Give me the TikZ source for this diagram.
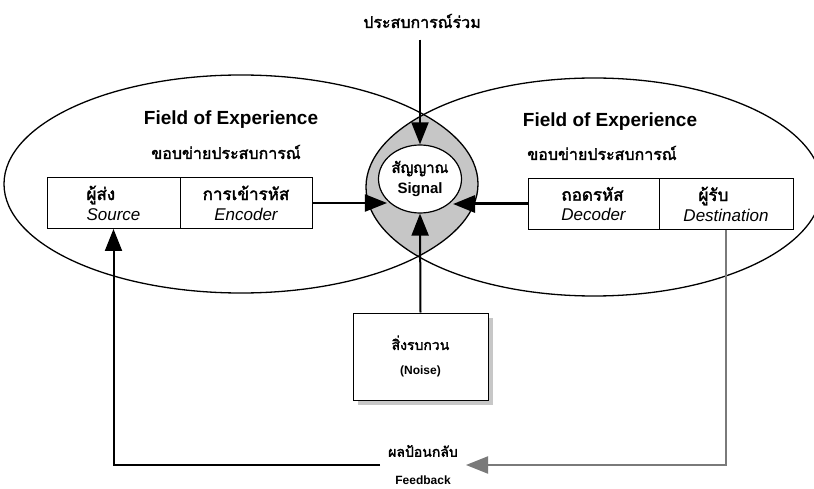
\documentclass[tikz,border=0pt]{standalone}
\usepackage{fontspec}
\setmainfont{Liberation Sans}
\setsansfont{Liberation Sans}
\newfontfamily\thai[Script=Thai, AutoFakeBold=2.2]{Loma}
\usetikzlibrary{arrows.meta,shapes.geometric,shadows}
\definecolor{lensgray}{HTML}{C6C6C6}
\definecolor{fbgray}{HTML}{7A7A7A}
\newcommand\thb[1]{{\thai\bfseries\upshape #1}}
\tikzset{
  field/.style={draw=black, line width=1.3pt},
  bigtip/.style={-{Triangle[length=22pt,width=17pt]}},
  conn/.style={draw=black, line width=2pt},
  cell/.style={draw=black, line width=1pt, fill=white, minimum height=51pt,
    inner sep=2pt, font=\fontsize{17}{20}\selectfont\itshape},
  title/.style={font=\bfseries\fontsize{19}{21}\selectfont, inner sep=1pt},
  thtitle/.style={font=\thai\bfseries\fontsize{16}{18}\selectfont, inner sep=1pt},
}
\begin{document}
\begin{tikzpicture}[x=1pt,y=-1pt]
\useasboundingbox (0,0) rectangle (814,489);
\fill[white] (0,0) rectangle (814,489);

% the overlap of the two fields of experience
\begin{scope}
  \clip (241,184) ellipse [x radius=237pt, y radius=109pt];
  \fill[lensgray] (594,187) ellipse [x radius=228pt, y radius=109pt];
\end{scope}
\draw[field] (241,184) ellipse [x radius=237pt, y radius=109pt];
\draw[field] (594,187) ellipse [x radius=228pt, y radius=109pt];

% field titles
\node[title] (ftl) at (231,120) {Field of Experience};
\node[thtitle] (ftlth) at (226,152) {ขอบข่ายประสบการณ์};
\node[title] (ftr) at (610,122) {Field of Experience};
\node[thtitle] (ftrth) at (602,153) {ขอบข่ายประสบการณ์};

% sender side
\node[cell, minimum width=133pt, align=left] (src) at (113.5,203) {\thb{ผู้ส่ง}\\Source};
\node[cell, minimum width=132pt, align=center] (enc) at (246,203) {\thb{การเข้ารหัส}\\Encoder};

% receiver side
\node[cell, minimum width=131pt, align=left] (dec) at (593.5,204) {\thb{ถอดรหัส}\\Decoder};
\node[cell, minimum width=134pt, align=left] (dst) at (726,204) {\hspace*{15pt}\thb{ผู้รับ}\\Destination};

% signal
\node[ellipse, draw=black, line width=1.2pt, fill=white, minimum width=83pt,
  minimum height=68pt, inner sep=0pt, align=center,
  font=\bfseries\fontsize{15}{21}\selectfont] (sig) at (420,179)
  {\thb{สัญญาณ}\\Signal};

% shared experience
\node[font=\thai\bfseries\fontsize{16}{18}\selectfont] (shared) at (422,21) {ประสบการณ์ร่วม};

% noise
\node[draw=black, line width=1pt, fill=white, minimum width=135pt, minimum height=87pt,
  drop shadow={shadow xshift=5pt, shadow yshift=-5pt, fill=black!22, opacity=1},
  align=center, font=\fontsize{14}{16}\selectfont] (noise) at (420.5,356.5)
  {\thb{สิ่งรบกวน}\\[9pt]{\bfseries\fontsize{12}{14}\selectfont (Noise)}};

% feedback label
\node[align=center, inner sep=8pt, font=\fontsize{14}{16}\selectfont] (fb) at (423,465)
  {\thb{ผลป้อนกลับ}\\[12pt]{\bfseries\fontsize{12}{14}\selectfont Feedback}};

% connectors
\draw[conn, bigtip, shorten <=8pt] (sig.north |- shared.south) -- (sig.north);
\draw[conn, bigtip] (enc.east) -- (enc.east -| sig.213);
\draw[conn, line width=3pt, bigtip] (dec.west) -- (dec.west -| sig.-33);
\draw[conn, bigtip] (noise.north) -- (sig.south);
\draw[fbgray, line width=2pt, bigtip] (dst.south) |- (fb.east);
\draw[conn, bigtip] (fb.west) -| (src.south);
\end{tikzpicture}
\end{document}
